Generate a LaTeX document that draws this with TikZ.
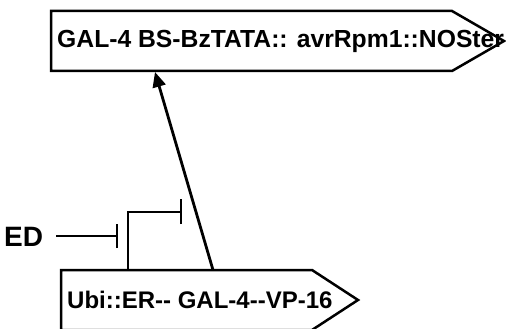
\documentclass[tikz,border=0pt]{standalone}
\usepackage{fontspec}
\setmainfont{Liberation Sans}
\usetikzlibrary{arrows.meta}
\begin{document}
\begin{tikzpicture}[x=1pt,y=-1pt,
  boxline/.style={line width=2.5pt,line join=miter},
  lbl/.style={inner sep=0pt,anchor=base west},
  bar/.style={line width=2.4pt}]
\useasboundingbox (0,0) rectangle (506,329);
% top box
\draw[boxline] (51,11) -- (452,11) -- (504,41) -- (452,71) -- (51,71) -- cycle;
\node[lbl,font=\bfseries\fontsize{24.7}{26}\selectfont] (toptext) at (57,48) {GAL-4 BS-BzTATA:: avrRpm1::NOSter};
% bottom box
\draw[boxline] (61,270) -- (312,270) -- (358,300) -- (312,330) -- (61,330) -- cycle;
\node[lbl,font=\bfseries\fontsize{24}{25}\selectfont] (bottext) at (67,308) {Ubi::ER-{}- GAL-4-{}-VP-16};
% coordinates
\coordinate (arrS) at (213,270);
\coordinate (arrE) at (155,72);
\coordinate (promS) at (128,270);
\coordinate (promC) at (128,212);
\coordinate (promE) at (181,212);
\coordinate (edS) at (56,236);
\coordinate (edE) at (117,236);
% arrow
\draw[line width=2.8pt,-{Triangle[length=15pt,width=13pt]}] (arrS) -- (arrE);
% promoter
\draw[line width=2.5pt] (promS) -- (promC) -- (promE);
\draw[bar] ([yshift=-12pt]promE) -- ([yshift=13pt]promE);
% ED
\node[lbl,font=\bfseries\fontsize{28}{30}\selectfont] (ed) at (4,246) {ED};
\draw[line width=1.3pt] (edS) -- (edE);
\draw[bar] ([yshift=-12pt]edE) -- ([yshift=12pt]edE);
\end{tikzpicture}
\end{document}
